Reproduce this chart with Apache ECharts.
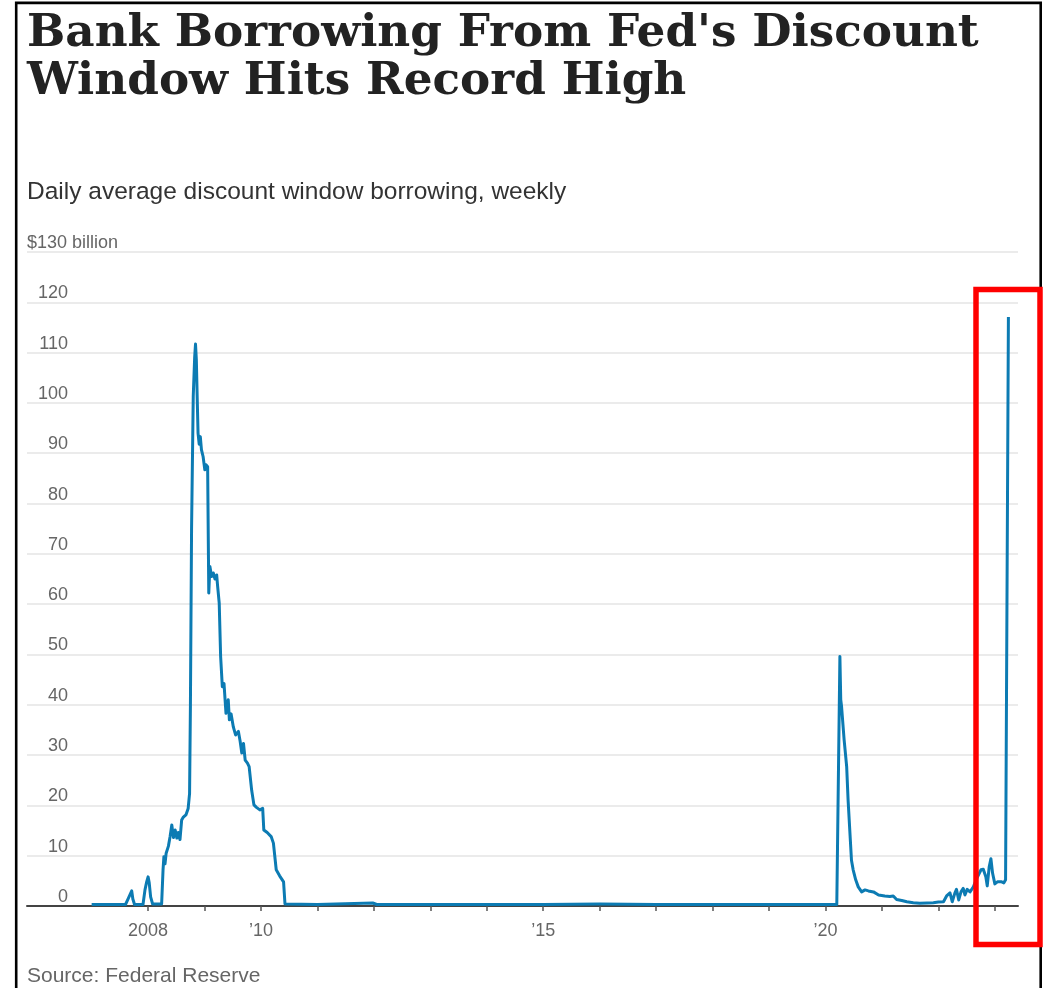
<!DOCTYPE html>
<html>
<head>
<meta charset="utf-8">
<script src="https://cdn.jsdelivr.net/npm/echarts@6/dist/echarts.min.js"></script>
<style>
  html, body { margin: 0; padding: 0; background: #fff; }
  #chart { width: 1051px; height: 988px; }
</style>
</head>
<body>
<div id="chart"></div>
<script>
// Week position in fractional years, and the daily average borrowing ($ billion) for that week
const years = [
  2007.00, 2007.30, 2007.60, 2007.65, 2007.68, 2007.71, 2007.73, 2007.76,
  2007.91, 2007.945, 2007.975, 2008.00, 2008.02, 2008.045, 2008.08, 2008.24,
  2008.265, 2008.28, 2008.30, 2008.32, 2008.36, 2008.39, 2008.42, 2008.45,
  2008.48, 2008.51, 2008.535, 2008.565, 2008.595, 2008.62, 2008.67, 2008.71,
  2008.735, 2008.75, 2008.77, 2008.80, 2008.825, 2008.84, 2008.855, 2008.87,
  2008.885, 2008.905, 2008.925, 2008.945, 2008.975, 2009.005, 2009.025, 2009.055,
  2009.075, 2009.095, 2009.125, 2009.155, 2009.185, 2009.215, 2009.23, 2009.26,
  2009.285, 2009.315, 2009.345, 2009.38, 2009.42, 2009.44, 2009.47, 2009.51,
  2009.55, 2009.60, 2009.63, 2009.66, 2009.69, 2009.72, 2009.76, 2009.79,
  2009.835, 2009.875, 2009.92, 2009.98, 2010.03, 2010.05, 2010.11, 2010.18,
  2010.22, 2010.27, 2010.33, 2010.40, 2010.425, 2011.00, 2011.98, 2012.05,
  2013.00, 2014.00, 2015.00, 2016.00, 2017.00, 2018.00, 2019.00, 2020.20,
  2020.255, 2020.27, 2020.285, 2020.33, 2020.375, 2020.40, 2020.44, 2020.46,
  2020.49, 2020.535, 2020.58, 2020.64, 2020.70, 2020.76, 2020.85, 2020.94,
  2020.965, 2021.05, 2021.14, 2021.20, 2021.26, 2021.35, 2021.44, 2021.555,
  2021.67, 2021.80, 2021.91, 2022.00, 2022.09, 2022.145, 2022.205, 2022.245,
  2022.29, 2022.32, 2022.36, 2022.40, 2022.44, 2022.47, 2022.51, 2022.56,
  2022.62, 2022.68, 2022.755, 2022.795, 2022.84, 2022.865, 2022.90, 2022.93,
  2022.96, 2023.00, 2023.045, 2023.08, 2023.12, 2023.16, 2023.19, 2023.24
];
const borrowing = [
  0.3, 0.3, 0.3, 1.5, 1.2, 3.0, 1.4, 0.3,
  0.3, 3.2, 4.8, 5.8, 4.6, 1.8, 0.4, 0.4,
  7.2, 9.8, 8.4, 10.5, 11.9, 13.8, 16.1, 13.6,
  15.1, 13.5, 14.6, 13.2, 17.1, 17.6, 18.1, 19.4,
  22.4, 40.0, 74.8, 101.3, 109.0, 111.7, 108.5, 101.0,
  94.0, 91.8, 93.3, 90.7, 89.3, 86.7, 87.7, 87.3,
  62.2, 67.5, 65.5, 66.2, 65.0, 65.8, 63.8, 60.2,
  49.6, 43.6, 44.2, 38.3, 41.0, 37.0, 38.2, 35.6,
  34.0, 34.7, 32.8, 30.4, 32.3, 29.0, 28.4, 27.7,
  23.0, 20.1, 19.6, 19.1, 19.4, 15.1, 14.6, 13.8,
  12.5, 7.2, 6.0, 4.8, 0.4, 0.3, 0.6, 0.3,
  0.3, 0.3, 0.3, 0.4, 0.3, 0.3, 0.3, 0.3,
  49.6, 41.0, 39.6, 33.0, 27.7, 21.1, 13.1, 9.1,
  7.2, 5.2, 3.8, 2.8, 3.2, 3.0, 2.8, 2.2,
  2.5, 2.0, 1.9, 2.0, 1.3, 1.1, 0.85, 0.66,
  0.53, 0.6, 0.66, 0.8, 0.85, 2.0, 2.6, 0.85,
  2.5, 3.3, 1.2, 2.8, 3.5, 2.2, 3.3, 2.8,
  3.8, 5.5, 7.2, 7.3, 5.8, 4.0, 7.8, 9.4,
  6.5, 4.4, 4.8, 4.5, 4.8, 4.6, 5.2, 117.1
];

// Axis ticks and labels
const xTickValues = [2008, 2009, 2010, 2011, 2012, 2013, 2014, 2015, 2016, 2017, 2018, 2019, 2020, 2021, 2022, 2023];
const xLabelValues = [2008, 2010, 2015, 2020];
const xLabelText = ['2008', '\u201910', '\u201915', '\u201920'];
const yMin = 0, yMax = 130, yStep = 10;
const unitLabel = '$130 billion';

const titleText = "Bank Borrowing From Fed's Discount\nWindow Hits Record High";
const subtitleText = 'Daily average discount window borrowing, weekly';
const sourceText = 'Source: Federal Reserve';

const chart = echarts.init(document.getElementById('chart'), null, { renderer: 'canvas' });

chart.setOption({
  animation: false,
  backgroundColor: '#ffffff',
  title: [
    {
      text: titleText, left: 27, top: 10, padding: 0,
      textStyle: { fontFamily: 'DejaVu Serif', fontWeight: 'bold', fontSize: 45.3, lineHeight: 48, color: '#222222' }
    },
    {
      text: subtitleText, left: 27, top: 180, padding: 0,
      textStyle: { fontFamily: 'Liberation Sans', fontWeight: 'normal', fontSize: 24.5, lineHeight: 24, color: '#333333' }
    },
    {
      text: unitLabel, left: 27, top: 234, padding: 0,
      textStyle: { fontFamily: 'Liberation Sans', fontWeight: 'normal', fontSize: 18, lineHeight: 18, color: '#666666' }
    },
    {
      text: sourceText, left: 27, top: 966, padding: 0,
      textStyle: { fontFamily: 'Liberation Sans', fontWeight: 'normal', fontSize: 21, lineHeight: 21, color: '#666666' }
    }
  ],
  grid: { left: 27, right: 33, top: 252, bottom: 82, containLabel: false, outerBoundsMode: 'none' },
  xAxis: {
    type: 'value',
    min: 2005.855,
    max: 2023.41,
    axisLine: { show: true, lineStyle: { color: '#444444', width: 2 } },
    axisTick: { show: true, customValues: xTickValues, length: 5, lineStyle: { color: '#555555', width: 1.5 } },
    axisLabel: {
      customValues: xLabelValues,
      margin: 16,
      fontFamily: 'Liberation Sans', fontSize: 18, color: '#666666',
      formatter: (v) => {
        const i = xLabelValues.indexOf(Math.round(v));
        return i >= 0 ? xLabelText[i] : '';
      }
    },
    splitLine: { show: false }
  },
  yAxis: {
    type: 'value',
    min: yMin, max: yMax, interval: yStep,
    offset: -41,
    axisLine: { show: false },
    axisTick: { show: false },
    axisLabel: {
      margin: 0,
      verticalAlign: 'bottom',
      fontFamily: 'Liberation Sans', fontSize: 18, color: '#666666',
      formatter: (v) => (v === yMax ? '' : String(v))
    },
    splitLine: { show: true, lineStyle: { color: '#e4e4e4', width: 1.5 } }
  },
  series: [{
    type: 'line',
    data: years.map((t, i) => [t, borrowing[i]]),
    showSymbol: false,
    symbol: 'none',
    lineStyle: { color: '#0c7bb3', width: 3, join: 'round' },
    z: 3
  }],
  graphic: [
    {
      type: 'rect', silent: true, z: 100,
      shape: { x: 16.2, y: 2.9, width: 1024.5, height: 1100 },
      style: { fill: 'none', stroke: '#000000', lineWidth: 2.6 }
    },
    {
      type: 'rect', silent: true, z: 101,
      shape: { x: 976, y: 289.5, width: 64, height: 655 },
      style: { fill: 'none', stroke: '#ff0000', lineWidth: 5.5 }
    }
  ]
});
</script>
</body>
</html>
